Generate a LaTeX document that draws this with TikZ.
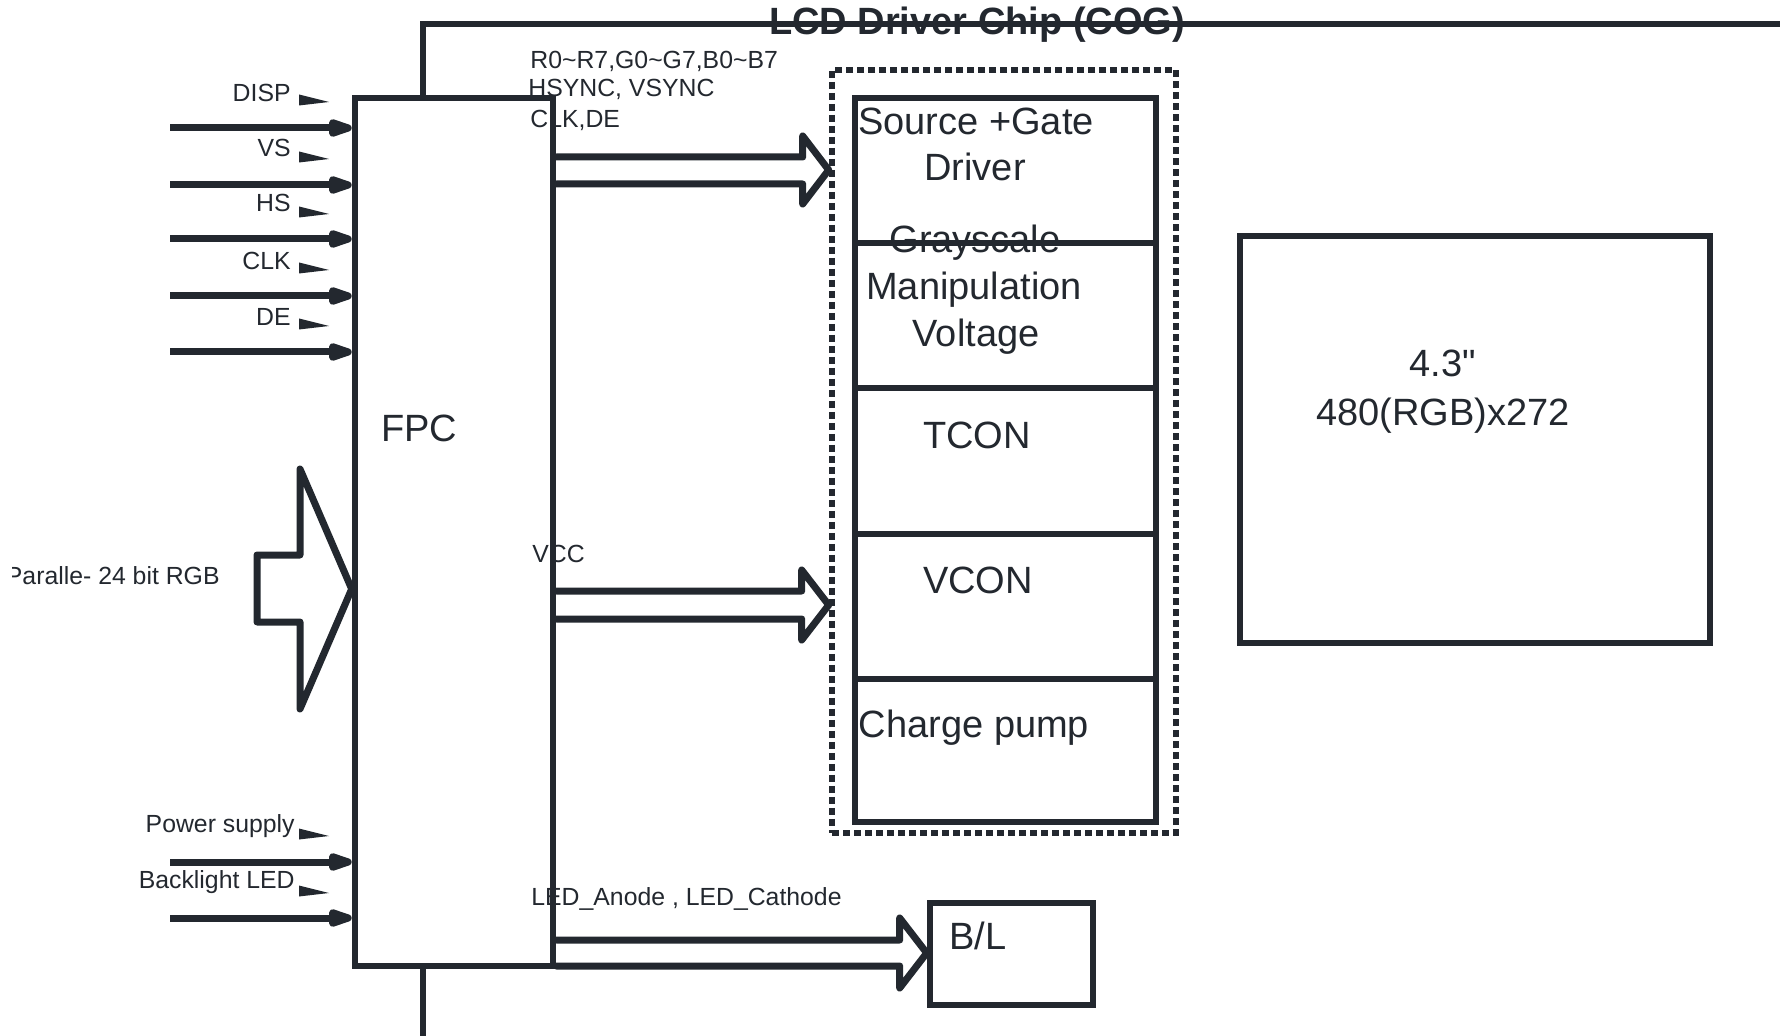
\documentclass[tikz,border=0pt]{standalone}
\usepackage{fontspec}
\setmainfont{Liberation Sans}
\newfontfamily\plainsans{Liberation Sans}
\usetikzlibrary{arrows.meta,fit,calc}
\definecolor{ink}{RGB}{35,40,47}
\begin{document}
\begin{tikzpicture}[x=0.5pt,y=-0.5pt,
  every node/.style={text=ink, inner sep=0pt},
  box/.style={draw=ink, line width=3.3pt, inner sep=0pt},
  dashbox/.style={draw=ink, line width=3.3pt, inner sep=0pt, dash pattern=on 3.3pt off 2.2pt},
  frame/.style={draw=ink, line width=3pt},
  hollow/.style={draw=ink, line width=3.5pt, line join=round, line cap=round},
  inwire/.style={draw=ink, line width=3.5pt, -{Triangle[length=16pt,width=9pt,round]}},
  biglbl/.style={font=\fontsize{19}{22}\selectfont},
  smlbl/.style={font=\fontsize{12.4}{15}\selectfont},
  titlelbl/.style={font=\bfseries\fontsize{19}{22}\selectfont},
  sigtick/.pic={\fill[ink] (0,-5.5) -- (30,2) -- (0,5.5) -- cycle;}
]
\useasboundingbox (0,0) rectangle (1780,1036);
\fill[white] (0,0) rectangle (1780,1036);

% chip frame
\coordinate (chipBL) at (423,1046);
\coordinate (chipTR) at (1790,24);
\draw[frame] (chipBL) |- (chipTR);
\node[titlelbl, anchor=base] (title) at (977,35) {LCD Driver Chip (COG)};

% FPC
\node[box, fill=white, fit={(355,98) (553,966)}] (fpc) {};
\node[biglbl, anchor=base west] (fpclbl) at (381,442) {FPC};

% COG column
\node[dashbox, fit={(832,70) (1176,833)}] (cog) {};
\node[box, fit={(855,98) (1156,243)}] (cell1) {};
\node[box, fit={(855,243) (1156,388)}] (cell2) {};
\node[box, fit={(855,388) (1156,534)}] (cell3) {};
\node[box, fit={(855,534) (1156,679)}] (cell4) {};
\node[box, fit={(855,679) (1156,822)}] (cell5) {};
\node[biglbl, anchor=base] (t1a) at (976,135) {Source +Gate};
\node[biglbl, anchor=base] (t1b) at (975,181) {Driver};
\node[biglbl, anchor=base] (t2a) at (975,253) {Grayscale};
\node[biglbl, anchor=base] (t2b) at (974,300) {Manipulation};
\node[biglbl, anchor=base] (t2c) at (976,347) {Voltage};
\node[biglbl, anchor=base] (t3) at (977,449) {TCON};
\node[biglbl, anchor=base] (t4) at (978,593) {VCON};
\node[biglbl, anchor=base] (t5) at (974,737) {Charge pump};

% panel
\node[box, fit={(1240,236) (1710,643)}] (panel) {};
\node[font=\plainsans\fontsize{19}{22}\selectfont, anchor=base] (p1) at (1443,377) {4.3"};
\node[biglbl, anchor=base] (p2) at (1443,426) {480(RGB)x272};

% backlight box
\node[box, fit={(930,903) (1093,1005)}] (bl) {};
\node[biglbl, anchor=base west] (bltxt) at (949,949) {B/L};

% signal texts
\node[smlbl, anchor=base west] (sig1) at (530,69) {R0\textasciitilde R7,G0\textasciitilde G7,B0\textasciitilde B7};
\node[smlbl, anchor=base west] (sig2) at (528,97) {HSYNC, VSYNC};
\node[smlbl, anchor=base west] (sig3) at (530,128) {CLK,DE};
\node[smlbl, anchor=base west] (vcc) at (532,562) {VCC};
\node[smlbl, anchor=base west] (led) at (531,905) {LED\_Anode , LED\_Cathode};

% hollow arrows
\draw[hollow] (fpc.east |- 0,157) -- ($(cog.west |- 0,157)+(-26,0)$) -- ++(0,-21)
  -- (cog.west |- 0,170) -- ++(-26,34) -- ++(0,-20) -- (fpc.east |- 0,184);
\draw[hollow] (fpc.east |- 0,591) -- ($(cog.west |- 0,591)+(-27,0)$) -- ++(0,-21)
  -- (cog.west |- 0,605) -- ++(-27,35) -- ++(0,-21) -- (fpc.east |- 0,619);
\draw[hollow] (fpc.east |- 0,940) -- ($(bl.west |- 0,940)+(-27,0)$) -- ++(0,-22)
  -- (bl.west |- 0,953) -- ++(-27,35) -- ++(0,-22) -- (fpc.east |- 0,966);

% input wires
\foreach \n/\y in {disp/128, vs/185, hs/239, clk/296, de/352, pwr/862, bkl/918}{
  \coordinate (\n-in) at (170,\y);
  \draw[inwire] (\n-in) -- (fpc.west |- \n-in);
}
\node[smlbl, anchor=base east] (lDISP) at (291,102) {DISP};
\node[smlbl, anchor=base east] (lVS) at (291,157) {VS};
\node[smlbl, anchor=base east] (lHS) at (291,212) {HS};
\node[smlbl, anchor=base east] (lCLK) at (291,270) {CLK};
\node[smlbl, anchor=base east] (lDE) at (291,326) {DE};
\node[smlbl, anchor=base east] (lPWR) at (295,832) {Power supply};
\node[smlbl, anchor=base east] (lBKL) at (295,888) {Backlight LED};
\foreach \y in {100,157,212,268,324,834,891}{
  \pic at (299,\y) {sigtick};
}

% big RGB input arrow
\draw[hollow, fill=white] (257,555) -- (300,555) -- (300,469) -- (fpc.west |- 0,589)
  -- (300,709) -- (300,622) -- (257,622) -- cycle;
\begin{scope}
  \clip (12,540) rectangle (250,620);
  \node[smlbl, anchor=base east] (rgb) at (220,584) {Paralle- 24 bit RGB};
\end{scope}
\end{tikzpicture}
\end{document}
